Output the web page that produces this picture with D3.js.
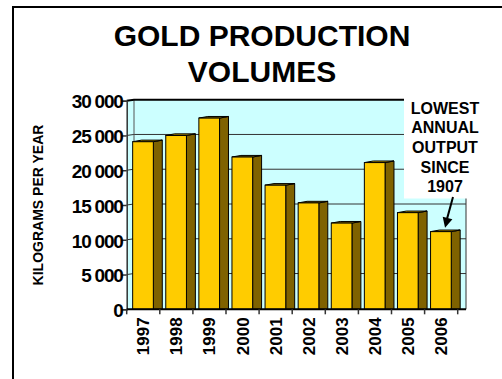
<!DOCTYPE html>
<html><head><meta charset="utf-8">
<script src="https://cdn.jsdelivr.net/npm/d3@7/dist/d3.min.js"></script>
<style>body{margin:0;background:#fff}svg{display:block;font-family:Arial,"Liberation Sans",sans-serif}</style>
</head><body>
<script>
const years = ["1997","1998","1999","2000","2001","2002","2003","2004","2005","2006"];
const production = [24100, 25000, 27500, 21900, 17850, 15300, 12400, 21100, 13900, 11170];
const yTicks = [0, 5000, 10000, 15000, 20000, 25000, 30000];
const titleLines = ["GOLD PRODUCTION", "VOLUMES"];
const yTitle = "KILOGRAMS PER YEAR";
const noteLines = ["LOWEST", "ANNUAL", "OUTPUT", "SINCE", "1907"];
const noteYear = "2006";

const W = 502, H = 379;
const svg = d3.select("body").append("svg").attr("width", W).attr("height", H);

// frame
svg.append("path").attr("d", `M13,${H+2} L13,7 L${W+2},7`).attr("fill","none").attr("stroke","#000").attr("stroke-width",2);

// title
svg.append("g").selectAll("text").data(titleLines).join("text")
  .attr("x", 262).attr("y", (d,i)=>46 + i*36).attr("text-anchor","middle")
  .attr("font-size",30).attr("font-weight","bold").text(d=>d);

const x = d3.scaleBand().domain(years).range([126.7, 457.7]).padding(0);
const y = d3.scaleLinear().domain([0, 30000]).range([309.3, 100.7]);
const step = x.step();
const off = 0.18*step, fw = 0.625*step, dep = 0.27*step, dy = 1.6;
const wallX = 134, rightX = 466, wdy = 1;

// wall
svg.append("rect").attr("x", x.range()[0]).attr("y", y(30000)-wdy).attr("width", rightX - x.range()[0]).attr("height", y(0)-y(30000)+wdy).attr("fill","#CCFFFF");
// gridlines
svg.append("g").selectAll("path").data(yTicks.filter(t=>t>0 && t<30000)).join("path")
  .attr("d", d=>`M${x.range()[0]},${y(d)} L${wallX},${y(d)-wdy} L${rightX},${y(d)-wdy}`)
  .attr("fill","none").attr("stroke","#333").attr("stroke-width",1);
svg.append("line").attr("x1",wallX).attr("x2",wallX).attr("y1",y(30000)-wdy).attr("y2",y(0)-wdy).attr("stroke","#555").attr("stroke-width",1);
svg.append("path").attr("d",`M${x.range()[0]},${y(30000)} L${wallX},${y(30000)-wdy} L${rightX},${y(30000)-wdy}`)
  .attr("fill","none").attr("stroke","#000").attr("stroke-width",2);
svg.append("line").attr("x1",rightX).attr("x2",rightX).attr("y1",y(30000)-wdy).attr("y2",y(0)).attr("stroke","#333").attr("stroke-width",1);

// y axis
const yAxis = svg.append("g").attr("transform",`translate(${x.range()[0]},0)`)
  .call(d3.axisLeft(y).tickValues(yTicks).tickSize(5).tickFormat(d=>d===0?"0":d3.format(",")(d).replace(",", " ")));
yAxis.select(".domain").attr("stroke","#333").attr("stroke-width",1.5);
yAxis.selectAll(".tick line").attr("stroke","#333").attr("stroke-width",1.5);
yAxis.selectAll(".tick text").attr("font-size",19).attr("font-weight","bold").attr("letter-spacing","-1.2px")
  .attr("font-family","Arial, 'Liberation Sans', sans-serif").attr("fill","#000").attr("x",-4).attr("dy","0.38em");

// y title
svg.append("text").attr("transform","translate(43,205) rotate(-90)").attr("text-anchor","middle")
  .attr("font-size",14).attr("font-weight","bold").text(yTitle);

// bars
const bars = svg.append("g").selectAll("g").data(years.map((yr,i)=>({yr, v: production[i]}))).join("g");
bars.append("path").attr("d", d=>{
  const x0 = x(d.yr)+off+fw, yt = y(d.v), yb = y(0);
  return `M${x0},${yb} L${x0},${yt} L${x0+dep},${yt-dy} L${x0+dep},${yb} Z`;
}).attr("fill","#7F6200").attr("stroke","#000").attr("stroke-width",1);
bars.append("path").attr("d", d=>{
  const x0 = x(d.yr)+off, yt = y(d.v);
  return `M${x0},${yt} L${x0+dep},${yt-dy} L${x0+fw+dep},${yt-dy} L${x0+fw},${yt} Z`;
}).attr("fill","#B89200").attr("stroke","#000").attr("stroke-width",1);
bars.append("rect").attr("x", d=>x(d.yr)+off).attr("y", d=>y(d.v)).attr("width", fw).attr("height", d=>y(0)-y(d.v))
  .attr("fill","#FFCC00").attr("stroke","#000").attr("stroke-width",1);

// x axis
const xAxis = svg.append("g").attr("transform",`translate(0,${y(0)})`);
xAxis.append("line").attr("x1", x.range()[0]).attr("x2", rightX).attr("stroke","#000").attr("stroke-width",2);
xAxis.selectAll("line.tk").data(years.concat(["end"])).join("line").attr("class","tk")
  .attr("x1",(d,i)=>x.range()[0]+i*step).attr("x2",(d,i)=>x.range()[0]+i*step).attr("y1",0).attr("y2",5)
  .attr("stroke","#333").attr("stroke-width",1.5);
xAxis.selectAll("text").data(years).join("text")
  .attr("transform", d=>`translate(${x(d)+step/2+6},8) rotate(-90)`).attr("text-anchor","end")
  .attr("font-size",17).attr("font-weight","bold").text(d=>d);

// annotation
svg.append("rect").attr("x",404).attr("y",97).attr("width",78).attr("height",101.5).attr("fill","#fff");
svg.append("g").selectAll("text").data(noteLines).join("text")
  .attr("x",445).attr("y",(d,i)=>113.5 + i*19.7).attr("text-anchor","middle")
  .attr("font-size",16).attr("font-weight","bold").text(d=>d);
const ix = years.indexOf(noteYear);
const tx = x(noteYear)+off+fw*0.7, ty = y(production[ix]) - 4;
svg.append("line").attr("x1",453).attr("y1",197).attr("x2",tx+1.5).attr("y2",ty-7).attr("stroke","#000").attr("stroke-width",2);
const ang = Math.atan2(ty-197, tx-453);
const ah = 10, aw = 5;
const bx = tx - ah*Math.cos(ang), by = ty - ah*Math.sin(ang);
svg.append("path").attr("d", `M${tx},${ty} L${bx + aw*Math.sin(ang)},${by - aw*Math.cos(ang)} L${bx - aw*Math.sin(ang)},${by + aw*Math.cos(ang)} Z`).attr("fill","#000");
</script>
</body></html>
